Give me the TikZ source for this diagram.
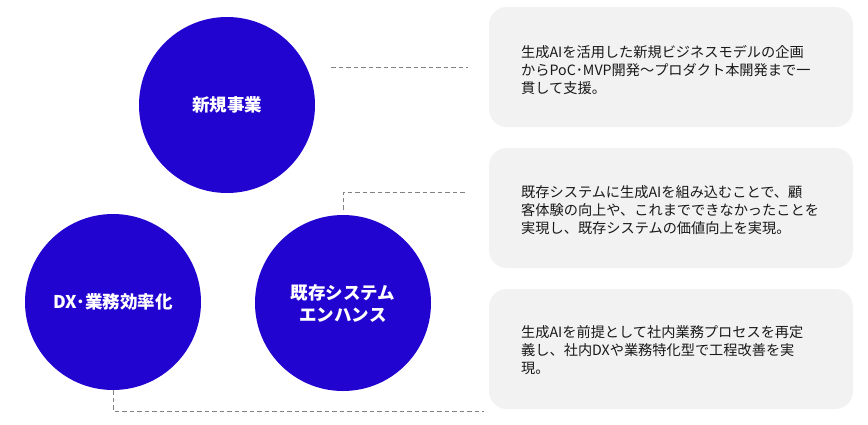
\documentclass[tikz,border=0pt]{standalone}
\usepackage{fontspec}
\setmainfont{Noto Sans CJK JP}
\definecolor{circblue}{RGB}{34,4,208}
\definecolor{boxgray}{RGB}{242,242,242}
\definecolor{dashgray}{RGB}{130,130,130}
\definecolor{txt}{RGB}{25,25,25}
\begin{document}
\begin{tikzpicture}[x=1pt,y=-1pt,
  circ/.style={circle,fill=circblue,draw=none,minimum size=176pt,inner sep=0pt,
    text=white,font=\fontsize{17.5}{22}\selectfont\bfseries,align=center},
  infobox/.style={rectangle,rounded corners=18pt,fill=boxgray,draw=none,
    minimum width=364pt,minimum height=120pt,inner sep=0pt},
  infotext/.style={anchor=west,inner sep=0pt,text=txt,align=left,
    font=\fontsize{14.2}{18}\selectfont},
  conn/.style={draw=dashgray,line width=0.9pt,dash pattern=on 4.5pt off 3pt}]
\fill[white] (0,0) rectangle (868,424);
\useasboundingbox (0,0) rectangle (868,424);

% circles
\node[circ] (c1) at (227,105) {新規事業};
\node[circ] (c2) at (113,302) {DX･業務効率化};
\node[circ] (c3) at (343,303) {既存システム\\エンハンス};

% boxes
\node[infobox] (b1) at (671,67) {};
\node[infobox] (b2) at (671,208) {};
\node[infobox] (b3) at (671,349) {};

\node[infotext] (t1) at (521,70) {生成AIを活用した新規ビジネスモデルの企画\\からPoC･MVP開発〜プロダクト本開発まで一\\貫して支援。};
\node[infotext] (t2) at (521,210) {既存システムに生成AIを組み込むことで、顧\\客体験の向上や、これまでできなかったことを\\実現し、既存システムの価値向上を実現。};
\node[infotext] (t3) at (521,350) {生成AIを前提として社内業務プロセスを再定\\義し、社内DXや業務特化型で工程改善を実\\現。};

% connectors
\coordinate (s1) at (331,67);
\coordinate (e1) at (468,67);
\coordinate (m2) at (343,192);
\coordinate (e2) at (467,192);
\coordinate (e3) at (484,411);

\draw[conn] (s1) -- (e1);
\draw[conn] ([yshift=5pt]c3.north) -- (m2) -- (e2);
\draw[conn] (c2.south) |- (e3);
\end{tikzpicture}
\end{document}
